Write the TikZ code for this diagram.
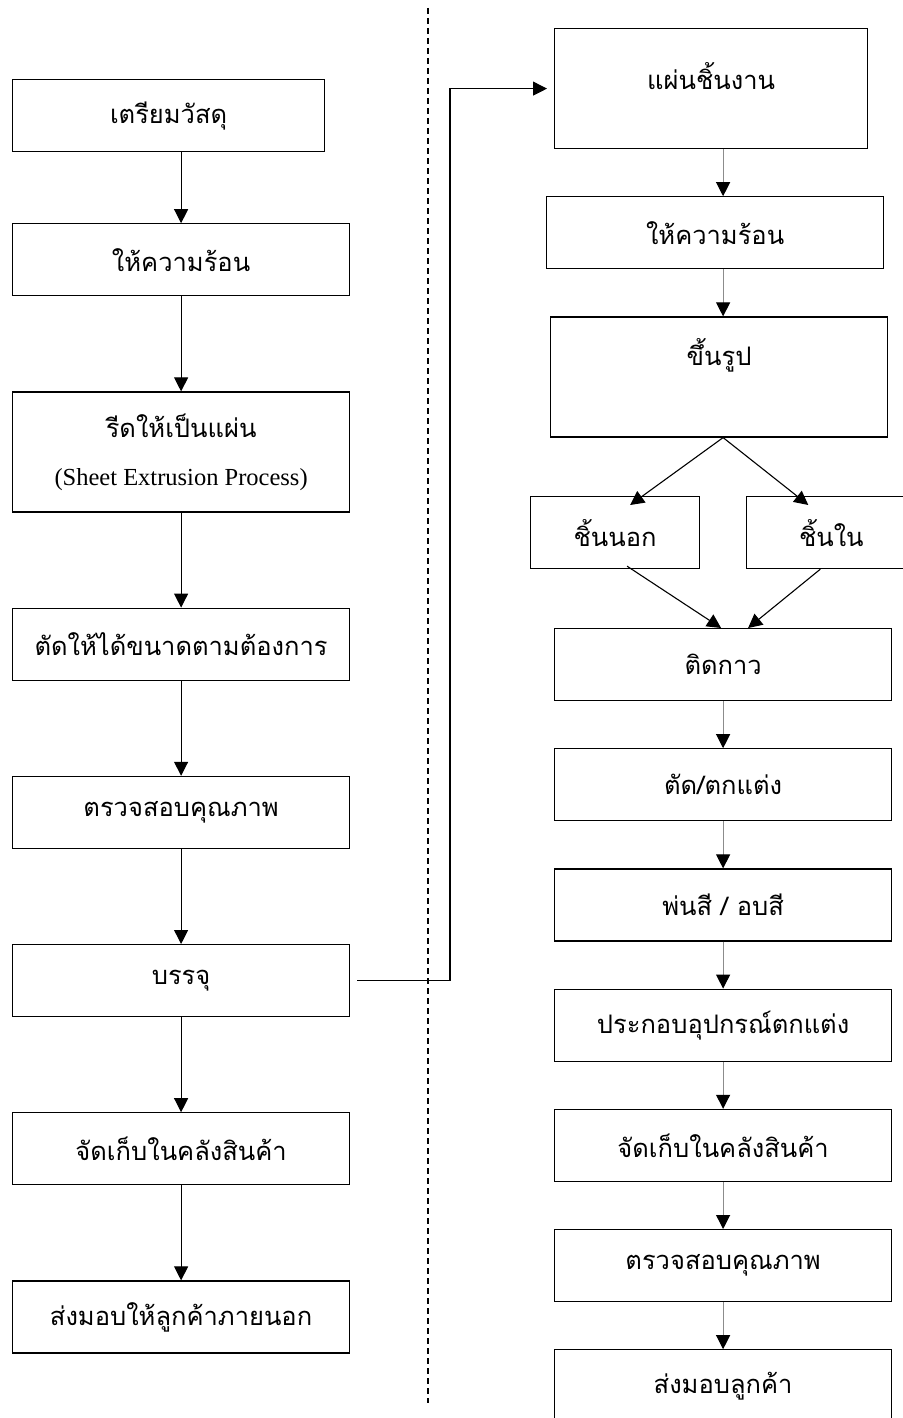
\documentclass[tikz,border=0pt]{standalone}
\usepackage{fontspec}
\setmainfont[Script=Thai]{Loma}
\newfontfamily\enfont{Liberation Serif}
\usepackage{tikz}
\usetikzlibrary{arrows.meta, positioning}

\begin{document}
\begin{tikzpicture}[
    x=1pt, y=-1pt,
    node distance=47pt,
    stepbox/.style={draw, line width=1.2pt, minimum width=337pt, minimum height=72pt, align=center, font=\fontsize{25.5pt}{30pt}\selectfont},
    arrow/.style={line width=1.1pt, -{Triangle[length=14pt, width=14pt]}},
    arrowr/.style={line width=1.1pt, draw=black!45, -{Triangle[length=14pt, width=14pt, color=black, fill=black]}},
]
    \useasboundingbox (0,0) rectangle (902,1418);

    % Left column
    \node[stepbox, minimum width=312pt, anchor=north west] (b1) at (12,79) {เตรียมวัสดุ};
    \node[stepbox, below=71pt of b1.south west, anchor=north west] (b2) {ให้ความร้อน};
    \node[stepbox, below=95pt of b2, minimum height=120pt] (b3) {รีดให้เป็นแผ่น\\[18pt]{\enfont\fontsize{24.5pt}{27pt}\selectfont (Sheet Extrusion Process)}};
    \node[stepbox, below=95pt of b3] (b4) {ตัดให้ได้ขนาดตามต้องการ};
    \node[stepbox, below=95pt of b4] (b5) {ตรวจสอบคุณภาพ};
    \node[stepbox, below=95pt of b5] (b6) {บรรจุ};
    \node[stepbox, below=95pt of b6] (b7) {จัดเก็บในคลังสินค้า};
    \node[stepbox, below=95pt of b7] (b8) {ส่งมอบให้ลูกค้าภายนอก};

    % Right column
    \node[stepbox, minimum width=313pt, minimum height=120pt, text depth=25pt, anchor=north west] (r1) at (554,28) {แผ่นชิ้นงาน};
    \node[stepbox, below=of r1, xshift=4pt] (r2) {ให้ความร้อน};
    \node[stepbox, below=of r2, xshift=4pt, minimum height=120pt, text depth=51pt] (r3) {ขึ้นรูป};
    \node[stepbox, minimum width=169pt, anchor=north west] (r4a) at (530,496) {ชิ้นนอก};
    \node[stepbox, minimum width=169pt, right=46pt of r4a] (r4b) {ชิ้นใน};
    \node[stepbox, anchor=north west] (r5) at (554,628) {ติดกาว};
    \node[stepbox, below=of r5] (r6) {ตัด/ตกแต่ง};
    \node[stepbox, below=of r6] (r7) {พ่นสี / อบสี};
    \node[stepbox, below=of r7] (r8) {ประกอบอุปกรณ์ตกแต่ง};
    \node[stepbox, below=of r8] (r9) {จัดเก็บในคลังสินค้า};
    \node[stepbox, below=of r9] (r10) {ตรวจสอบคุณภาพ};
    \node[stepbox, below=of r10] (r11) {ส่งมอบลูกค้า};

    % Divider
    \coordinate (divtop) at (428,8);
    \coordinate (divbot) at (428,1403);
    \draw[line width=1.2pt, dash pattern=on 6pt off 4pt] (divtop) -- (divbot);

    % Arrows, left column
    \draw[arrow] (b1.south -| b2.north) -- (b2.north);
    \draw[arrow] (b2) -- (b3);
    \draw[arrow] (b3) -- (b4);
    \draw[arrow] (b4) -- (b5);
    \draw[arrow] (b5) -- (b6);
    \draw[arrow] (b6) -- (b7);
    \draw[arrow] (b7) -- (b8);

    % Link to second process
    \draw[arrow] ([xshift=7pt]b6.east) -| ([xshift=-104pt]r1.west) -- ([xshift=-7pt]r1.west);

    % Arrows, right column
    \draw[arrowr] (r1.south -| r5.north) -- (r2.north -| r5.north);
    \draw[arrowr] (r2.south -| r5.north) -- (r3.north -| r5.north);
    \draw[arrow] (r3.south -| r5.north) -- ([xshift=15pt, yshift=-9pt]r4a.north);
    \draw[arrow] (r3.south -| r5.north) -- ([xshift=-23pt, yshift=-9pt]r4b.north);
    \draw[arrow] ([xshift=12pt, yshift=3pt]r4a.south) -- ([xshift=-2pt]r5.north);
    \draw[arrow] ([xshift=-11pt]r4b.south) -- ([xshift=25pt]r5.north);
    \draw[arrowr] (r5) -- (r6);
    \draw[arrowr] (r6) -- (r7);
    \draw[arrowr] (r7) -- (r8);
    \draw[arrowr] (r8) -- (r9);
    \draw[arrowr] (r9) -- (r10);
    \draw[arrowr] (r10) -- (r11);
\end{tikzpicture}
\end{document}
